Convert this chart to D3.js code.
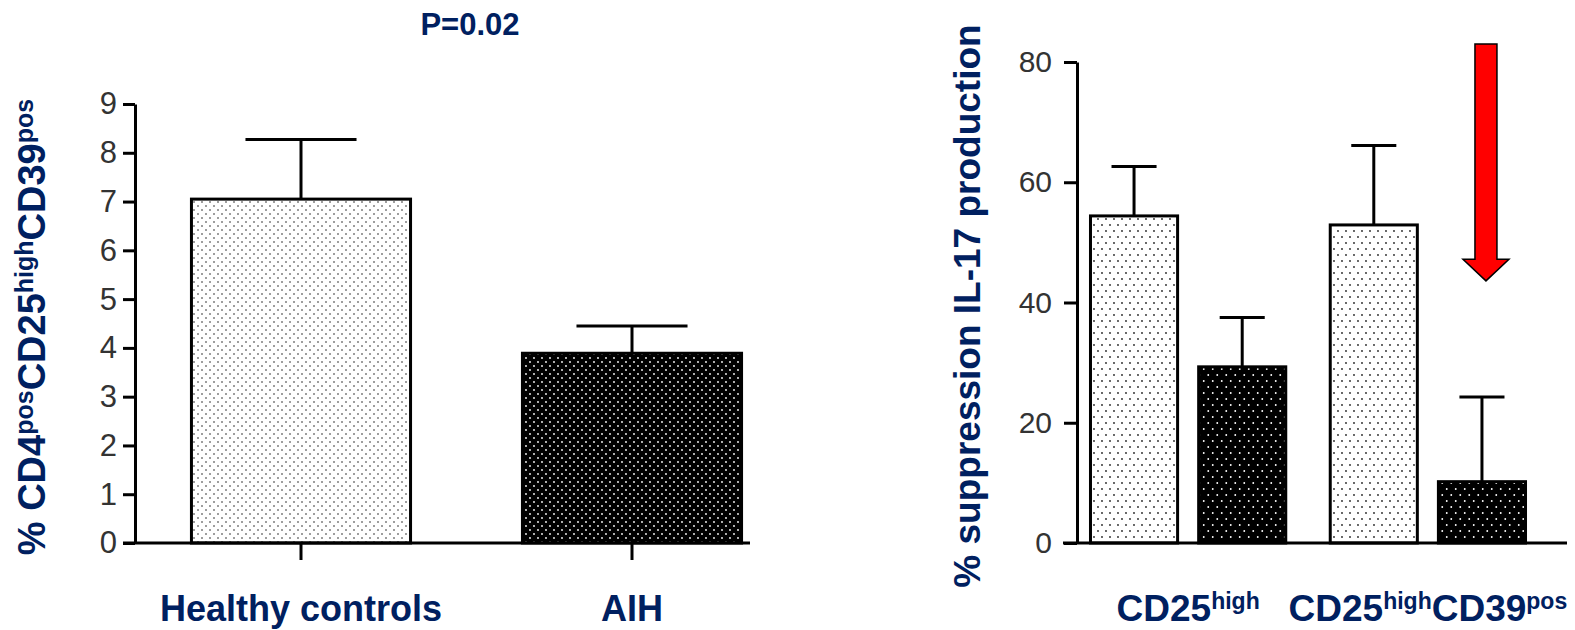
<!DOCTYPE html>
<html><head><meta charset="utf-8">
<script src="https://cdn.jsdelivr.net/npm/d3@7"></script>
<style>body{margin:0;background:#fff}svg{display:block}</style>
</head><body>
<svg id="c" width="1575" height="630"></svg>
<script>
// ---- data ----
const leftCategories = ["Healthy controls", "AIH"];
const leftMeans = [7.05, 3.89];
const leftSEM = [1.22, 0.56];
const leftTicks = [0, 1, 2, 3, 4, 5, 6, 7, 8, 9];
const pValueLabel = "P=0.02";

const rightGroups = ["CD25high", "CD25highCD39pos"];
const rightSubgroups = ["control", "aih"];
const controlMeans = [54.4, 52.9];
const controlSEM = [8.2, 13.2];
const aihMeans = [29.3, 10.2];
const aihSEM = [8.2, 14.1];
const rightTicks = [0, 20, 40, 60, 80];
const arrowValues = {top: 83, headBase: 47.2, tip: 43.6};

const navy = "#002060";
const svg = d3.select("#c");

// ---- patterns ----
const defs = svg.append("defs");
function pattern(id, bg, dot, w, h, r) {
  const p = defs.append("pattern").attr("id", id).attr("patternUnits", "userSpaceOnUse")
    .attr("width", w).attr("height", h);
  p.append("rect").attr("width", w).attr("height", h).attr("fill", bg);
  p.append("circle").attr("cx", w / 4).attr("cy", h / 4).attr("r", r).attr("fill", dot);
  p.append("circle").attr("cx", 3 * w / 4).attr("cy", 3 * h / 4).attr("r", r).attr("fill", dot);
}
pattern("lightL", "#fff", "#222", 8, 8, 0.8);
pattern("darkL", "#000", "#fff", 8, 8, 0.9);
pattern("lightR", "#fff", "#222", 8, 12, 0.9);
pattern("darkR", "#000", "#fff", 9, 12, 0.95);

// ---- left chart ----
const yL = d3.scaleLinear().domain([0, 9]).range([543, 104]);
const xL = d3.scaleBand().domain(leftCategories).range([135, 798]).paddingInner(0.329).paddingOuter(0.166);
const gL = svg.append("g");

leftCategories.forEach((c, i) => {
  const cx = xL(c) + xL.bandwidth() / 2;
  const cap = xL.bandwidth() / 2;
  gL.append("line").attr("x1", cx).attr("x2", cx).attr("y1", yL(leftMeans[i])).attr("y2", yL(leftMeans[i] + leftSEM[i]))
    .attr("stroke", "#000").attr("stroke-width", 3);
  gL.append("line").attr("x1", cx - cap / 2).attr("x2", cx + cap / 2).attr("y1", yL(leftMeans[i] + leftSEM[i])).attr("y2", yL(leftMeans[i] + leftSEM[i]))
    .attr("stroke", "#000").attr("stroke-width", 3);
  gL.append("rect").attr("x", xL(c) + 1.5).attr("y", yL(leftMeans[i]))
    .attr("width", xL.bandwidth() - 3).attr("height", yL(0) - yL(leftMeans[i]))
    .attr("fill", i === 0 ? "url(#lightL)" : "url(#darkL)").attr("stroke", "#000").attr("stroke-width", 3);
});

const axL = gL.append("g").attr("transform", "translate(135,0)")
  .call(d3.axisLeft(yL).tickValues(leftTicks).tickFormat(d3.format("d")).tickSize(12).tickSizeOuter(0).tickPadding(6));
axL.select(".domain").attr("stroke-width", 3);
axL.selectAll(".tick line").attr("stroke-width", 3);
axL.selectAll(".tick text").attr("font-family", "Liberation Sans, Arial, sans-serif").attr("font-size", 31).attr("fill", "#333");

gL.append("line").attr("x1", 123).attr("x2", 750).attr("y1", yL(0)).attr("y2", yL(0)).attr("stroke", "#000").attr("stroke-width", 3);
const axLb = gL.append("g").attr("transform", `translate(0,${yL(0)})`)
  .call(d3.axisBottom(xL).tickSize(17).tickSizeOuter(0));
axLb.select(".domain").remove();
axLb.selectAll(".tick line").attr("stroke-width", 3);
axLb.selectAll(".tick text").attr("dy", null).attr("y", 78)
  .attr("font-family", "Liberation Sans, Arial, sans-serif").attr("font-weight", "bold")
  .attr("font-size", 36).attr("fill", navy);

gL.append("text").attr("x", 470).attr("y", 35).attr("text-anchor", "middle")
  .attr("font-family", "Liberation Sans, Arial, sans-serif").attr("font-weight", "bold").attr("font-size", 31)
  .attr("fill", navy).text(pValueLabel);

function richLabel(g, parts, x, y, main, sup, shift, rotate, anchor) {
  const t = g.append("text").attr("text-anchor", anchor || "middle")
    .attr("font-family", "Liberation Sans, Arial, sans-serif").attr("font-weight", "bold").attr("fill", navy)
    .attr("transform", `translate(${x},${y})` + (rotate ? " rotate(-90)" : ""));
  let raised = false;
  parts.forEach(([s, isSup]) => {
    const ts = t.append("tspan").text(s).attr("font-size", isSup ? sup : main);
    if (isSup && !raised) { ts.attr("dy", -shift); raised = true; }
    else if (!isSup && raised) { ts.attr("dy", shift); raised = false; }
  });
  return t;
}
richLabel(gL, [["% CD4", false], ["pos", true], ["CD25", false], ["high", true], ["CD39", false], ["pos", true]],
  45, 327, 38, 25, 12, true);

// ---- right chart ----
const yR = d3.scaleLinear().domain([0, 80]).range([543, 62]);
const xR0 = d3.scaleBand().domain(rightGroups).range([1077, 1539]).paddingInner(0.173).paddingOuter(0.05);
const xR1 = d3.scaleBand().domain(rightSubgroups).range([0, xR0.bandwidth()]).paddingInner(0.167);
const gR = svg.append("g");

rightGroups.forEach((grp, gi) => {
  const series = [[controlMeans[gi], controlSEM[gi], "url(#lightR)"], [aihMeans[gi], aihSEM[gi], "url(#darkR)"]];
  rightSubgroups.forEach((sg, si) => {
    const [m, e, fill] = series[si];
    const x0 = xR0(grp) + xR1(sg);
    const bw = xR1.bandwidth();
    const cx = x0 + bw / 2;
    gR.append("line").attr("x1", cx).attr("x2", cx).attr("y1", yR(m)).attr("y2", yR(m + e)).attr("stroke", "#000").attr("stroke-width", 3);
    gR.append("line").attr("x1", cx - bw / 4).attr("x2", cx + bw / 4).attr("y1", yR(m + e)).attr("y2", yR(m + e)).attr("stroke", "#000").attr("stroke-width", 3);
    gR.append("rect").attr("x", x0 + 1.5).attr("y", yR(m)).attr("width", bw - 3).attr("height", yR(0) - yR(m))
      .attr("fill", fill).attr("stroke", "#000").attr("stroke-width", 3);
  });
});

const axR = gR.append("g").attr("transform", "translate(1077,0)")
  .call(d3.axisLeft(yR).tickValues(rightTicks).tickFormat(d3.format("d")).tickSize(13).tickSizeOuter(0).tickPadding(12));
axR.select(".domain").attr("stroke-width", 3);
axR.selectAll(".tick line").attr("stroke-width", 3);
axR.selectAll(".tick text").attr("font-family", "Liberation Sans, Arial, sans-serif").attr("font-size", 30).attr("fill", "#333");
gR.append("line").attr("x1", 1063).attr("x2", 1567).attr("y1", yR(0)).attr("y2", yR(0)).attr("stroke", "#000").attr("stroke-width", 3);

richLabel(gR, [["CD25", false], ["high", true]], xR0(rightGroups[0]) + xR0.bandwidth() / 2, 621, 37, 23, 12, false);
richLabel(gR, [["CD25", false], ["high", true], ["CD39", false], ["pos", true]], xR0(rightGroups[1]) + xR0.bandwidth() / 2, 621, 37, 23, 12, false);

gR.append("text").attr("text-anchor", "middle").attr("transform", "translate(980,306) rotate(-90)")
  .attr("font-family", "Liberation Sans, Arial, sans-serif").attr("font-weight", "bold").attr("font-size", 37)
  .attr("fill", navy).text("% suppression IL-17 production");

// red arrow annotation above last bar
const ax = xR0(rightGroups[1]) + xR1("aih") + xR1.bandwidth() / 2 + 4;
const sw = 11, hw = 23;
const arrow = [[ax - sw, yR(arrowValues.top)], [ax + sw, yR(arrowValues.top)], [ax + sw, yR(arrowValues.headBase)],
  [ax + hw, yR(arrowValues.headBase)], [ax, yR(arrowValues.tip)], [ax - hw, yR(arrowValues.headBase)], [ax - sw, yR(arrowValues.headBase)]];
gR.append("path").attr("d", d3.line()(arrow) + "Z").attr("fill", "#ff0000").attr("stroke", "#000").attr("stroke-width", 1.5);
</script>
</body></html>
